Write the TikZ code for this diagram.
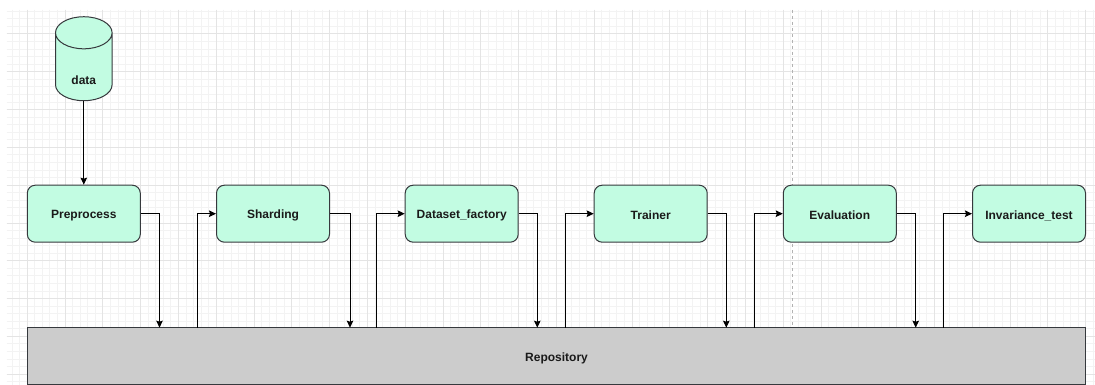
\documentclass[tikz,border=0pt]{standalone}
\usepackage{fontspec}
\setmainfont{Liberation Sans}
\usetikzlibrary{shapes.geometric,arrows.meta}

\definecolor{mint}{HTML}{C2FCE2}
\definecolor{edge}{HTML}{36393D}
\definecolor{repofill}{HTML}{CCCCCC}
\definecolor{gridminor}{HTML}{F3F3F3}
\definecolor{gridmajor}{HTML}{E4E4E4}
\definecolor{ink}{HTML}{1A1A1A}

\begin{document}
\begin{tikzpicture}[x=1pt, y=-1pt,
    stage/.style ={rectangle, rounded corners=8pt, draw=edge, fill=mint, line width=1pt,
      minimum width=113pt, minimum height=57pt, text=ink,
      font=\fontsize{12pt}{14pt}\selectfont\bfseries},
    store/.style ={cylinder, shape border rotate=90, aspect=1.3, draw=edge, fill=mint,
      line width=1pt, minimum width=56.6pt, minimum height=84pt, inner sep=0pt, text=ink,
      font=\fontsize{12pt}{14pt}\selectfont\bfseries},
    repository/.style ={rectangle, draw=edge, fill=repofill, line width=1pt,
      minimum width=1058.4pt, minimum height=56.6pt, text=ink,
      font=\fontsize{12pt}{14pt}\selectfont\bfseries},
    flow/.style ={line width=1pt, -{Stealth[length=7pt,width=6.5pt,inset=1pt]}}]
   \useasboundingbox (0,0) rectangle (1095,385);
   \fill[white] (0,0) rectangle (1095,385);

   \begin{scope}
     \clip (6.7,10) rectangle (1095,385);
     \foreach \k in {-3,...,141} \draw[gridminor, line width=1pt] (27.3+7.56*\k,10) -- (27.3+7.56*\k,385);
     \foreach \k in {-3,...,46} \draw[gridminor, line width=1pt] (6.7,34+7.56*\k) -- (1095,34+7.56*\k);
     \foreach \k in {-1,...,28} \draw[gridmajor, line width=1pt] (27.3+37.8*\k,10) -- (27.3+37.8*\k,385);
     \foreach \k in {-1,...,9} \draw[gridmajor, line width=1pt] (6.7,34+37.8*\k) -- (1095,34+37.8*\k);
   \end{scope}
   \draw[gray!60, line width=0.8pt, dash pattern=on 3pt off 3pt] (792.7,10) -- (792.7,327.7);

   \node[store] (data) at (83.8,67) {\raisebox{-13pt}[\height][\depth]{data}};
   \node[stage] (pre) at (83.8,213.7) {\raisebox{-2pt}[\height][\depth]{Preprocess}};
   \node[stage] (shard) at (273,213.7) {\raisebox{-2pt}[\height][\depth]{Sharding}};
   \node[stage] (dset) at (461.7,213.7) {\raisebox{-2pt}[\height][\depth]{Dataset\_factory}};
   \node[stage] (train) at (650.7,213.7) {\raisebox{-2pt}[\height][\depth]{Trainer}};
   \node[stage] (eval) at (839.8,213.7) {\raisebox{-2pt}[\height][\depth]{Evaluation}};
   \node[stage] (inv) at (1029,213.7) {\raisebox{-2pt}[\height][\depth]{Invariance\_test}};
   \node[repository] (repo) at (556.5,356) {\raisebox{-2pt}[\height][\depth]{Repository}};

   \coordinate (o1) at (159.5,327.7);
   \coordinate (o2) at (350,327.7);
   \coordinate (o3) at (537.3,327.7);
   \coordinate (o4) at (726.3,327.7);
   \coordinate (o5) at (915.7,327.7);
   \coordinate (i2) at (197.3,327.7);
   \coordinate (i3) at (376.7,327.7);
   \coordinate (i4) at (565.7,327.7);
   \coordinate (i5) at (754.3,327.7);
   \coordinate (i6) at (943.3,327.7);

   \draw[flow] (data) -- (pre);
   \draw[flow] (pre.east) -| (o1);
   \draw[flow] (i2) |- (shard.west);
   \draw[flow] (shard.east) -| (o2);
   \draw[flow] (i3) |- (dset.west);
   \draw[flow] (dset.east) -| (o3);
   \draw[flow] (i4) |- (train.west);
   \draw[flow] (train.east) -| (o4);
   \draw[flow] (i5) |- (eval.west);
   \draw[flow] (eval.east) -| (o5);
   \draw[flow] (i6) |- (inv.west);
 \end{tikzpicture}
\end{document}
